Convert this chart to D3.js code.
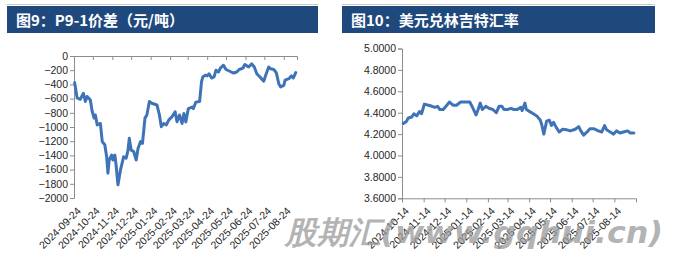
<!DOCTYPE html>
<html><head><meta charset="utf-8">
<script src="https://cdn.jsdelivr.net/npm/d3@7"></script>
<style>
html,body{margin:0;padding:0;background:#fff;}
svg{display:block;}
</style></head>
<body>
<svg id="c" width="684" height="259"></svg>
<script>
// ---------- data: chart 1 (P9-1 spread, 元/吨) ----------
const spreadDates = ["2024-09-25","2024-09-29","2024-10-04","2024-10-09","2024-10-12","2024-10-15","2024-10-20","2024-10-23","2024-10-26","2024-10-28","2024-10-31","2024-11-05","2024-11-08","2024-11-12","2024-11-15","2024-11-17","2024-11-19","2024-11-23","2024-11-25","2024-11-28","2024-11-30","2024-12-03","2024-12-07","2024-12-12","2024-12-16","2024-12-19","2024-12-21","2024-12-24","2024-12-28","2025-01-01","2025-01-04","2025-01-08","2025-01-11","2025-01-15","2025-01-18","2025-01-22","2025-01-26","2025-02-03","2025-02-07","2025-02-10","2025-02-14","2025-02-18","2025-02-22","2025-02-27","2025-03-04","2025-03-07","2025-03-11","2025-03-15","2025-03-18","2025-03-21","2025-03-25","2025-03-31","2025-04-02","2025-04-06","2025-04-12","2025-04-15","2025-04-17","2025-04-21","2025-04-24","2025-04-27","2025-05-01","2025-05-05","2025-05-08","2025-05-12","2025-05-15","2025-05-20","2025-05-24","2025-05-30","2025-06-05","2025-06-10","2025-06-14","2025-06-20","2025-06-23","2025-06-29","2025-07-04","2025-07-08","2025-07-12","2025-07-17","2025-07-23","2025-07-27","2025-07-31","2025-08-03","2025-08-08","2025-08-12","2025-08-16","2025-08-19","2025-08-24","2025-08-26","2025-09-01","2025-09-05","2025-09-08","2025-09-12"];
const spreadValues = [-375,-590,-610,-525,-640,-570,-620,-780,-875,-830,-970,-950,-1205,-1250,-1420,-1650,-1465,-1395,-1465,-1395,-1535,-1815,-1605,-1420,-1440,-1325,-1160,-1325,-1345,-1465,-1300,-1205,-1230,-875,-830,-640,-665,-690,-830,-995,-950,-970,-900,-855,-785,-925,-830,-950,-810,-930,-740,-720,-740,-650,-640,-365,-295,-270,-280,-250,-310,-295,-200,-225,-170,-130,-190,-215,-240,-225,-190,-170,-120,-155,-110,-155,-250,-295,-355,-250,-155,-180,-190,-235,-390,-435,-415,-340,-320,-280,-310,-235];
const spreadTickDates = ["2024-09-24","2024-10-24","2024-11-24","2024-12-24","2025-01-24","2025-02-24","2025-03-24","2025-04-24","2025-05-24","2025-06-24","2025-07-24","2025-08-24"];
const spreadYTicks = [0,-200,-400,-600,-800,-1000,-1200,-1400,-1600,-1800,-2000];

// ---------- data: chart 2 (USD/MYR) ----------
const fxDates = ["2024-10-16","2024-10-20","2024-10-23","2024-10-28","2024-10-31","2024-11-04","2024-11-08","2024-11-11","2024-11-15","2024-11-21","2024-11-26","2024-11-30","2024-12-04","2024-12-07","2024-12-12","2024-12-16","2024-12-21","2024-12-26","2024-12-31","2025-01-06","2025-01-12","2025-01-19","2025-01-23","2025-01-28","2025-01-31","2025-02-03","2025-02-06","2025-02-11","2025-02-16","2025-02-21","2025-02-26","2025-03-02","2025-03-06","2025-03-09","2025-03-14","2025-03-19","2025-03-23","2025-03-28","2025-04-02","2025-04-04","2025-04-08","2025-04-10","2025-04-15","2025-04-20","2025-04-25","2025-04-30","2025-05-02","2025-05-05","2025-05-09","2025-05-13","2025-05-16","2025-05-19","2025-05-23","2025-05-27","2025-06-01","2025-06-07","2025-06-12","2025-06-19","2025-06-24","2025-06-27","2025-07-01","2025-07-06","2025-07-10","2025-07-16","2025-07-22","2025-07-27","2025-07-31","2025-08-03","2025-08-08","2025-08-13","2025-08-17","2025-08-22","2025-08-27","2025-09-02","2025-09-06","2025-09-11"];
const fxValues = [4.30,4.316,4.35,4.36,4.39,4.37,4.41,4.39,4.48,4.47,4.46,4.45,4.46,4.43,4.43,4.46,4.50,4.47,4.47,4.50,4.50,4.50,4.45,4.38,4.43,4.49,4.43,4.46,4.44,4.43,4.40,4.46,4.46,4.43,4.43,4.44,4.43,4.43,4.45,4.42,4.49,4.43,4.41,4.39,4.37,4.33,4.29,4.20,4.32,4.33,4.28,4.31,4.26,4.22,4.245,4.24,4.23,4.245,4.27,4.23,4.19,4.22,4.25,4.25,4.23,4.22,4.28,4.24,4.22,4.20,4.23,4.21,4.22,4.23,4.21,4.21];
const fxTickDates = ["2024-10-14","2024-11-14","2024-12-14","2025-01-14","2025-02-14","2025-03-14","2025-04-14","2025-05-14","2025-06-14","2025-07-14","2025-08-14"];
const fxYTicks = [3.6,3.8,4.0,4.2,4.4,4.6,4.8,5.0];

const titles = ["图9：P9-1价差（元/吨）","图10：美元兑林吉特汇率"];
const watermark = "股期汇(www.gqhui.cn)";

// ---------- drawing ----------
const svg = d3.select("#c");
const parse = d3.utcParse("%Y-%m-%d");
const LINE = "#3f73b7";
const TXT = "#262626";
const AX = "#8c8c8c";

function titleBar(x, w, text){
  svg.append("line").attr("x1",x).attr("x2",x+w).attr("y1",4.5).attr("y2",4.5)
    .attr("stroke","#c8c8c8").attr("stroke-width",1);
  svg.append("rect").attr("x",x).attr("y",6).attr("width",w).attr("height",27).attr("fill","#1f497d");
  svg.append("text").attr("x",x+9).attr("y",25.5).text(text)
    .attr("fill","#fff").attr("font-family","'Noto Sans CJK SC',sans-serif")
    .attr("font-weight","bold").attr("font-size",15);
}
titleBar(7, 311, titles[0]);
titleBar(342, 313, titles[1]);

function chart(opt){
  const x = d3.scaleUtc().domain([parse(opt.d0), parse(opt.d1)]).range([opt.x0, opt.x1]);
  const y = d3.scaleLinear().domain(opt.yDomain).range([opt.yBottom, opt.yTop]);
  const g = svg.append("g");
  const ya = g.append("g").attr("transform",`translate(${opt.x0},0)`)
    .call(d3.axisLeft(y).tickValues(opt.yTicks).tickSize(4).tickPadding(2).tickFormat(opt.yFmt));
  ya.select(".domain").attr("stroke",AX);
  ya.selectAll(".tick line").attr("stroke",AX);
  ya.selectAll("text").attr("fill",TXT).attr("font-family","'Liberation Sans',Arial,sans-serif").attr("font-size",10.5);
  const xa = g.append("g").attr("transform",`translate(0,${opt.xAxisY})`)
    .call(d3.axisBottom(x).tickValues(opt.xTicks.map(parse)).tickSize(4).tickFormat(""));
  xa.select(".domain").attr("stroke",AX);
  xa.selectAll(".tick line").attr("stroke",AX);
  const lab = g.append("g");
  opt.xTicks.forEach(d=>{
    const px = x(parse(d));
    lab.append("text").attr("transform",`translate(${px+5},${opt.labelY}) rotate(-45)`)
      .attr("text-anchor","end").attr("dy","0.35em").text(d)
      .attr("fill",TXT).attr("font-family","'Liberation Sans',Arial,sans-serif").attr("font-size",10.5);
  });
  const data = opt.dates.map((d,i)=>({d:parse(d), v:opt.values[i]}));
  g.append("path").datum(data)
    .attr("d", d3.line().x(p=>x(p.d)).y(p=>y(p.v)))
    .attr("fill","none").attr("stroke",LINE).attr("stroke-width",3)
    .attr("stroke-linejoin","round").attr("stroke-linecap","round");
}

chart({
  d0:"2024-09-24", d1:"2025-09-14", x0:74, x1:297,
  yDomain:[-2000,0], yTop:56, yBottom:198, xAxisY:56, labelY:209,
  yTicks:spreadYTicks, yFmt:d3.format("d"),
  xTicks:spreadTickDates, dates:spreadDates, values:spreadValues
});
chart({
  d0:"2024-10-14", d1:"2025-09-14", x0:402, x1:636,
  yDomain:[3.6,5.0], yTop:48.5, yBottom:198.3, xAxisY:198.3, labelY:209,
  yTicks:fxYTicks, yFmt:d3.format(".4f"),
  xTicks:fxTickDates, dates:fxDates, values:fxValues
});

svg.append("text").attr("x",285).attr("y",243).text(watermark)
  .attr("textLength",378).attr("lengthAdjust","spacingAndGlyphs")
  .attr("fill","#9a9a9a").attr("fill-opacity",0.75)
  .attr("font-family","'DejaVu Sans',sans-serif").attr("font-weight","bold")
  .attr("font-style","italic").attr("font-size",31);
</script>
</body></html>
